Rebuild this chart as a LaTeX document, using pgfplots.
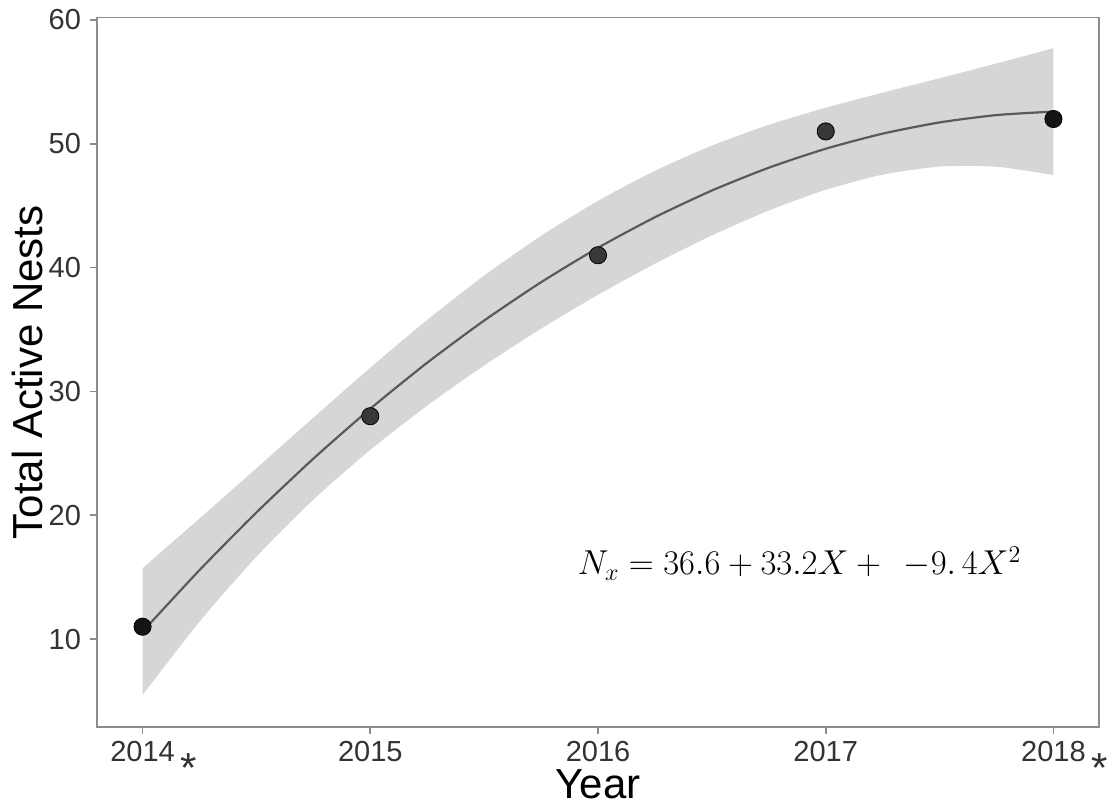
\documentclass[border=0pt]{standalone}
\usepackage{pgfplots}
\pgfplotsset{compat=1.18}
\usepackage{fontspec}
\setmainfont{Liberation Sans}
\usepgfplotslibrary{fillbetween}
\definecolor{bandgray}{HTML}{D6D6D6}
\definecolor{linegray}{HTML}{5A5A5A}
\definecolor{framegray}{HTML}{8C8C8C}
\definecolor{ticktext}{HTML}{333333}
\newcommand{\starmark}{\rlap{\hspace{3pt}\raisebox{-10.5pt}{\fontsize{21}{21}\selectfont *}}}
\begin{document}
\begin{tikzpicture}
\begin{axis}[
  name=ax,
  scale only axis,
  width=501pt, height=354.75pt,
  xmin=2013.8, xmax=2018.2,
  ymin=2.9, ymax=60.2,
  xtick={2014,2015,2016,2017,2018},
  xticklabels={2014\starmark,2015,2016,2017,2018\starmark},
  ytick={10,20,30,40,50,60},
  axis line style={framegray, line width=0.9pt},
  tick style={framegray, line width=0.8pt},
  tick align=outside,
  major tick length=3.5pt,
  xtick pos=bottom, ytick pos=left,
  /pgf/number format/assume math mode=true,
  /pgf/number format/1000 sep={},
  tick label style={font=\fontsize{14.5}{16}\selectfont, text=ticktext},
  xticklabel style={yshift=0pt},
  yticklabel style={xshift=-1pt},
  xlabel={Year},
  ylabel={Total Active Nests},
  label style={font=\fontsize{21}{24}\selectfont, text=black},
  xlabel style={at={(axis description cs:0.5,0)}, anchor=base, yshift=-35.5pt},
  ylabel style={at={(axis description cs:-0.0539,0.5)}, anchor=base},
  clip=false,
]
% confidence band
\addplot[name path=upper, draw=none, smooth, tension=0.4, forget plot] coordinates {
(2014.00,15.722)(2014.25,19.739)(2014.50,23.792)(2014.75,27.879)(2015.00,31.917)
(2015.25,35.778)(2015.50,39.351)(2015.75,42.568)(2016.00,45.393)(2016.25,47.818)
(2016.50,49.851)(2016.75,51.528)(2017.00,52.917)(2017.25,54.129)(2017.50,55.292)
(2017.75,56.489)(2018.00,57.722)};
\addplot[name path=lower, draw=none, smooth, tension=0.4, forget plot] coordinates {
(2014.00,5.478)(2014.25,11.399)(2014.50,16.658)(2014.75,21.259)(2015.00,25.283)
(2015.25,28.860)(2015.50,32.099)(2015.75,35.070)(2016.00,37.807)(2016.25,40.320)
(2016.50,42.599)(2016.75,44.610)(2017.00,46.283)(2017.25,47.509)(2017.50,48.158)
(2017.75,48.149)(2018.00,47.478)};
\addplot[bandgray, draw=none, forget plot] fill between[of=upper and lower];
% fitted line
\addplot[linegray, line width=1.1pt, smooth, tension=0.4, no marks] coordinates {
(2014.00,10.600)(2014.25,15.569)(2014.50,20.225)(2014.75,24.569)(2015.00,28.600)
(2015.25,32.319)(2015.50,35.725)(2015.75,38.819)(2016.00,41.600)(2016.25,44.069)
(2016.50,46.225)(2016.75,48.069)(2017.00,49.600)(2017.25,50.819)(2017.50,51.725)
(2017.75,52.319)(2018.00,52.600)};
% observations
\addplot[only marks, mark=*, mark size=4.3pt, mark options={draw=none, fill=black!78}] coordinates {
(2015,28)(2016,41)(2017,51)};
\addplot[only marks, mark=*, mark size=4.3pt, mark options={draw=none, fill=black!92}] coordinates {
(2014,11)(2018,52)};
\node[anchor=base west, inner sep=0pt, font=\fontsize{17.8}{19}\selectfont] at (axis cs:2015.91,15.18)
  {$N_{x} = 36.6 + 33.2X + \;\, {-9.\,4}X^{2}$};
\end{axis}
\pgfresetboundingbox
\path ([xshift=-48.5pt,yshift=-37pt]ax.south west) rectangle ([xshift=5pt,yshift=8.75pt]ax.north east);
\end{tikzpicture}
\end{document}
